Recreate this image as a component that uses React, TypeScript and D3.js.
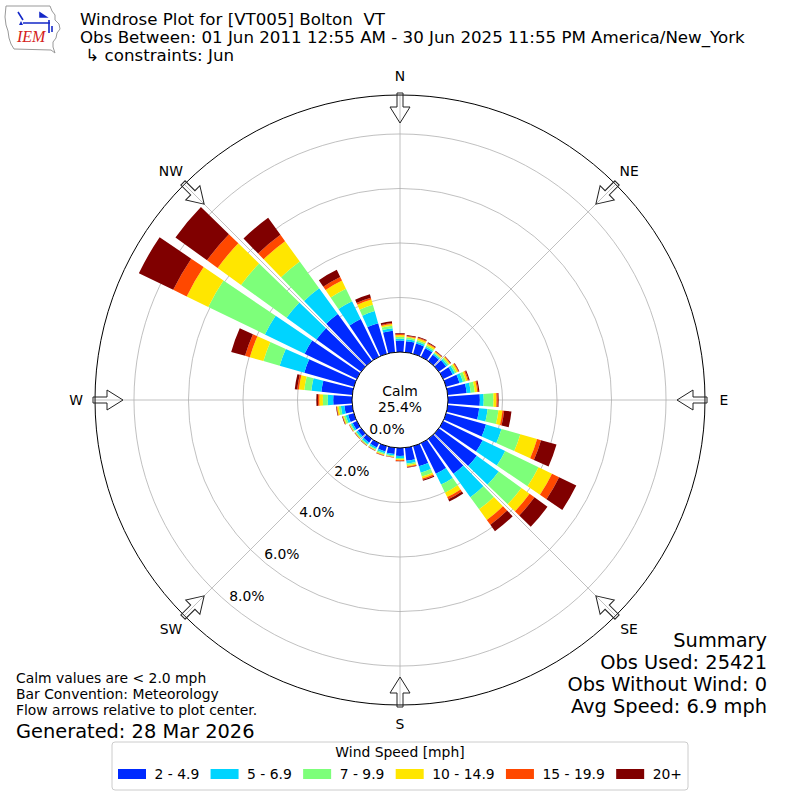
import { useEffect, useRef } from "react";
import * as d3 from "d3";

// direction bins (degrees, meteorological) and speed bins
const directions = [
  0, 10, 20, 30, 40, 50, 60, 70, 80, 90, 100, 110, 120, 130, 140, 150, 160, 170,
  180, 190, 200, 210, 220, 230, 240, 250, 260, 270, 280, 290, 300, 310, 320, 330,
  340, 350,
];
const speedBins = ["2 - 4.9", "5 - 6.9", "7 - 9.9", "10 - 14.9", "15 - 19.9", "20+"];

// percent of obs per direction, one array per speed bin
const speed2to5 = [
  0.42, 0.41, 0.39, 0.35, 0.29, 0.33, 0.39, 0.51, 0.7, 1.17, 1.16, 1.52, 1.61,
  1.72, 1.58, 1.25, 0.77, 0.48, 0.29, 0.23, 0.2, 0.18, 0.17, 0.15, 0.17, 0.22,
  0.29, 0.69, 1.14, 1.89, 2.13, 2.02, 2.13, 1.54, 1.17, 0.79,
];
const speed5to7 = [
  0.07, 0.07, 0.07, 0.06, 0.06, 0.07, 0.09, 0.13, 0.15, 0.14, 0.31, 0.59, 0.92,
  0.99, 1.06, 0.44, 0.24, 0.1, 0.08, 0.06, 0.07, 0.06, 0.07, 0.07, 0.07, 0.09,
  0.13, 0.2, 0.37, 0.94, 1.62, 1.36, 1.17, 0.73, 0.46, 0.1,
];
const speed7to10 = [
  0.07, 0.06, 0.07, 0.06, 0.04, 0.06, 0.07, 0.11, 0.15, 0.36, 0.4, 0.72, 1.36,
  1.03, 0.55, 0.33, 0.15, 0.06, 0.04, 0.04, 0.05, 0.04, 0.04, 0.04, 0.04, 0.07,
  0.08, 0.18, 0.26, 0.62, 2.31, 2.06, 1.21, 0.51, 0.24, 0.09,
];
const speed10to15 = [
  0.06, 0.04, 0.06, 0.06, 0.04, 0.05, 0.06, 0.07, 0.09, 0.11, 0.15, 0.64, 0.55,
  0.37, 0.48, 0.18, 0.07, 0.05, 0.04, 0.02, 0.03, 0.02, 0.02, 0.02, 0.02, 0.04,
  0.06, 0.13, 0.2, 0.52, 0.88, 1.06, 0.92, 0.33, 0.2, 0.06,
];
const speed15to20 = [
  0.04, 0.03, 0.03, 0.03, 0.02, 0.02, 0.03, 0.04, 0.04, 0.05, 0.06, 0.15, 0.29,
  0.22, 0.22, 0.09, 0.05, 0.03, 0.03, 0.01, 0.02, 0.01, 0.01, 0.01, 0.01, 0.01,
  0.02, 0.05, 0.06, 0.18, 0.55, 0.48, 0.29, 0.15, 0.07, 0.04,
];
const speed20plus = [
  0.03, 0.03, 0.03, 0.03, 0.02, 0.02, 0.02, 0.04, 0.04, 0.03, 0.27, 0.59, 0.7,
  0.59, 0.29, 0.09, 0.04, 0.02, 0.01, 0.01, 0.01, 0.01, 0.01, 0.01, 0.01, 0.02,
  0.02, 0.06, 0.09, 0.53, 1.4, 1.43, 0.77, 0.29, 0.13, 0.06,
];
const seriesBySpeed = [speed2to5, speed5to7, speed7to10, speed10to15, speed15to20, speed20plus];

const calmPercent = 25.4;
const ringTicks = [0, 2, 4, 6, 8];
const compassAngles = [0, 45, 90, 135, 180, 225, 270, 315];
const compassLabels = ["N", "NE", "E", "SE", "S", "SW", "W", "NW"];

const titleLines = [
  "Windrose Plot for [VT005] Bolton  VT",
  "Obs Between: 01 Jun 2011 12:55 AM - 30 Jun 2025 11:55 PM America/New_York",
  " \u21b3 constraints: Jun",
];
const noteLines = [
  "Calm values are < 2.0 mph",
  "Bar Convention: Meteorology",
  "Flow arrows relative to plot center.",
];
const generatedText = "Generated: 28 Mar 2026";
const summaryLines = ["Summary", "Obs Used: 25421", "Obs Without Wind: 0", "Avg Speed: 6.9 mph"];

// jet colormap samples
const palette = ["#002aff", "#00d4ff", "#7dff7a", "#ffe600", "#ff4800", "#800000"];

const FONT = "DejaVu Sans, sans-serif";
const rad = (deg: number) => (deg * Math.PI) / 180;

export default function App() {
  const svgRef = useRef<SVGSVGElement>(null);

  useEffect(() => {
    const svg = d3.select(svgRef.current);
    svg.selectAll("*").remove();

    const cx = 400;
    const cy = 400;
    const rMax = 9.43;
    const r = d3.scaleLinear().domain([0, rMax]).range([48, 305]);
    const outerR = r(rMax);

    const g = svg.append("g").attr("transform", `translate(${cx},${cy})`);

    // grid rings and spokes
    g.selectAll("circle.ring")
      .data(ringTicks.filter((t) => t > 0))
      .join("circle")
      .attr("class", "ring")
      .attr("r", (d) => r(d))
      .attr("fill", "none")
      .attr("stroke", "#b0b0b0")
      .attr("stroke-width", 0.8);

    g.selectAll("line.spoke")
      .data(compassAngles)
      .join("line")
      .attr("class", "spoke")
      .attr("x1", 0)
      .attr("y1", 0)
      .attr("x2", (d) => outerR * Math.sin(rad(d)))
      .attr("y2", (d) => -outerR * Math.cos(rad(d)))
      .attr("stroke", "#b0b0b0")
      .attr("stroke-width", 0.8);

    g.append("circle")
      .attr("r", outerR)
      .attr("fill", "none")
      .attr("stroke", "#000")
      .attr("stroke-width", 1);

    // flow arrows on the rim, pointing inwards
    const R = outerR;
    const arrowPath = `M -3,${-R - 2} L 3,${-R - 2} L 3,${-R + 12} L 10,${-R + 12} L 0,${-R + 28} L -10,${-R + 12} L -3,${-R + 12} Z`;
    g.selectAll("path.arrow")
      .data(compassAngles)
      .join("path")
      .attr("class", "arrow")
      .attr("d", arrowPath)
      .attr("transform", (d) => `rotate(${d})`)
      .attr("fill", "none")
      .attr("stroke", "#222")
      .attr("stroke-width", 1);

    // stacked bars
    const rows = directions.map((dir, i) => {
      const row: Record<string, number> = { dir };
      speedBins.forEach((k, j) => (row[k] = seriesBySpeed[j][i]));
      return row;
    });
    const layers = d3.stack<Record<string, number>>().keys(speedBins)(rows);
    const half = rad(4.1);
    const arcGen = d3.arc<any>();

    layers.forEach((layer, li) => {
      g.append("g")
        .selectAll("path")
        .data(layer)
        .join("path")
        .attr("d", (d) =>
          arcGen({
            innerRadius: r(d[0]),
            outerRadius: r(d[1]),
            startAngle: rad(d.data.dir) - half,
            endAngle: rad(d.data.dir) + half,
          }),
        )
        .attr("fill", palette[li]);
    });

    // calm circle
    g.append("circle")
      .attr("r", r(0))
      .attr("fill", "#fff")
      .attr("stroke", "#000")
      .attr("stroke-width", 1);
    g.append("text")
      .attr("x", 0)
      .attr("y", -4)
      .attr("text-anchor", "middle")
      .attr("font-family", FONT)
      .attr("font-size", 13.9)
      .text("Calm");
    g.append("text")
      .attr("x", 0)
      .attr("y", 12)
      .attr("text-anchor", "middle")
      .attr("font-family", FONT)
      .attr("font-size", 13.9)
      .text(`${calmPercent.toFixed(1)}%`);

    // ring labels
    const labelAngle = rad(220);
    g.selectAll("text.rlabel")
      .data(ringTicks)
      .join("text")
      .attr("class", "rlabel")
      .attr("x", (d) => r(d) * Math.sin(labelAngle) + 17.8)
      .attr("y", (d) => -r(d) * Math.cos(labelAngle) - 7.8)
      .attr("text-anchor", "middle")
      .attr("dominant-baseline", "central")
      .attr("font-family", FONT)
      .attr("font-size", 13.9)
      .text((d) => `${d.toFixed(1)}%`);

    // compass labels
    g.selectAll("text.compass")
      .data(compassAngles)
      .join("text")
      .attr("class", "compass")
      .attr("x", (d) => 324 * Math.sin(rad(d)))
      .attr("y", (d) => -324 * Math.cos(rad(d)))
      .attr("text-anchor", "middle")
      .attr("dominant-baseline", "central")
      .attr("font-family", FONT)
      .attr("font-size", 13.9)
      .text((_, i) => compassLabels[i]);

    // title
    svg
      .selectAll("text.title")
      .data(titleLines)
      .join("text")
      .attr("class", "title")
      .attr("x", 80)
      .attr("y", (_, i) => 25 + i * 18)
      .attr("font-family", FONT)
      .attr("font-size", 16.67)
      .style("white-space", "pre")
      .text((d) => d);

    // logo
    const logo = svg.append("g");
    logo
      .append("path")
      .attr(
        "d",
        "M6,6 L50,6 L52,11 L55,15 L55,20 L59,24 L60,29 L57,33 L56,38 L53,42 L53,47 L55,53 L51,50 L14,49 L11,44 L9,38 L8,31 L6,25 L5,17 Z",
      )
      .attr("fill", "none")
      .attr("stroke", "#999")
      .attr("stroke-width", 1);
    logo
      .append("path")
      .attr("d", "M23,23 L50,23 M18,12 L23,20 M40,13 L46,17 L40,17 Z M49,20 L49,33 M52,26 L52,32")
      .attr("fill", "#1428c8")
      .attr("stroke", "#1428c8")
      .attr("stroke-width", 1.6);
    logo
      .append("path")
      .attr("d", "M19,25 L21,21 L23,25 Z")
      .attr("fill", "#1428c8");
    logo
      .append("text")
      .attr("x", 17)
      .attr("y", 42)
      .attr("font-family", "Liberation Serif, serif")
      .attr("font-style", "italic")
      .attr("font-size", 16)
      .attr("fill", "#d42020")
      .text("IEM");

    // notes lower left
    svg
      .selectAll("text.note")
      .data(noteLines)
      .join("text")
      .attr("class", "note")
      .attr("x", 16)
      .attr("y", (_, i) => 683 + i * 16)
      .attr("font-family", FONT)
      .attr("font-size", 13.9)
      .text((d) => d);
    svg
      .append("text")
      .attr("x", 16)
      .attr("y", 738)
      .attr("font-family", FONT)
      .attr("font-size", 19.4)
      .text(generatedText);

    // summary lower right
    svg
      .selectAll("text.summary")
      .data(summaryLines)
      .join("text")
      .attr("class", "summary")
      .attr("x", 767)
      .attr("y", (_, i) => 647 + i * 22)
      .attr("text-anchor", "end")
      .attr("font-family", FONT)
      .attr("font-size", 19.4)
      .text((d) => d);

    // legend
    const lg = svg.append("g");
    const box = { x: 112, y: 742, w: 576, h: 48 };
    lg.append("rect")
      .attr("x", box.x)
      .attr("y", box.y)
      .attr("width", box.w)
      .attr("height", box.h)
      .attr("rx", 3)
      .attr("fill", "#fff")
      .attr("stroke", "#ccc")
      .attr("stroke-width", 1);
    lg.append("text")
      .attr("x", box.x + box.w / 2)
      .attr("y", 757)
      .attr("text-anchor", "middle")
      .attr("font-family", FONT)
      .attr("font-size", 13.9)
      .text("Wind Speed [mph]");

    const handleW = 28;
    const pad = 8.5;
    const labels = speedBins.map((s) =>
      lg
        .append("text")
        .attr("y", 779)
        .attr("font-family", FONT)
        .attr("font-size", 13.9)
        .text(s),
    );
    const widths = labels.map((t) => (t.node() as SVGTextElement).getComputedTextLength());
    const used = d3.sum(widths) + speedBins.length * (handleW + pad);
    const inner = box.w - 12;
    const gap = (inner - used) / (speedBins.length - 1);
    let xCur = box.x + 6;
    speedBins.forEach((_, i) => {
      lg.append("rect")
        .attr("x", xCur)
        .attr("y", 769)
        .attr("width", handleW)
        .attr("height", 10)
        .attr("fill", palette[i]);
      labels[i].attr("x", xCur + handleW + pad);
      xCur += handleW + pad + widths[i] + gap;
    });
  }, []);

  return (
    <svg
      ref={svgRef}
      width={800}
      height={800}
      style={{ position: "absolute", left: 0, top: 0, background: "#fff" }}
    />
  );
}
